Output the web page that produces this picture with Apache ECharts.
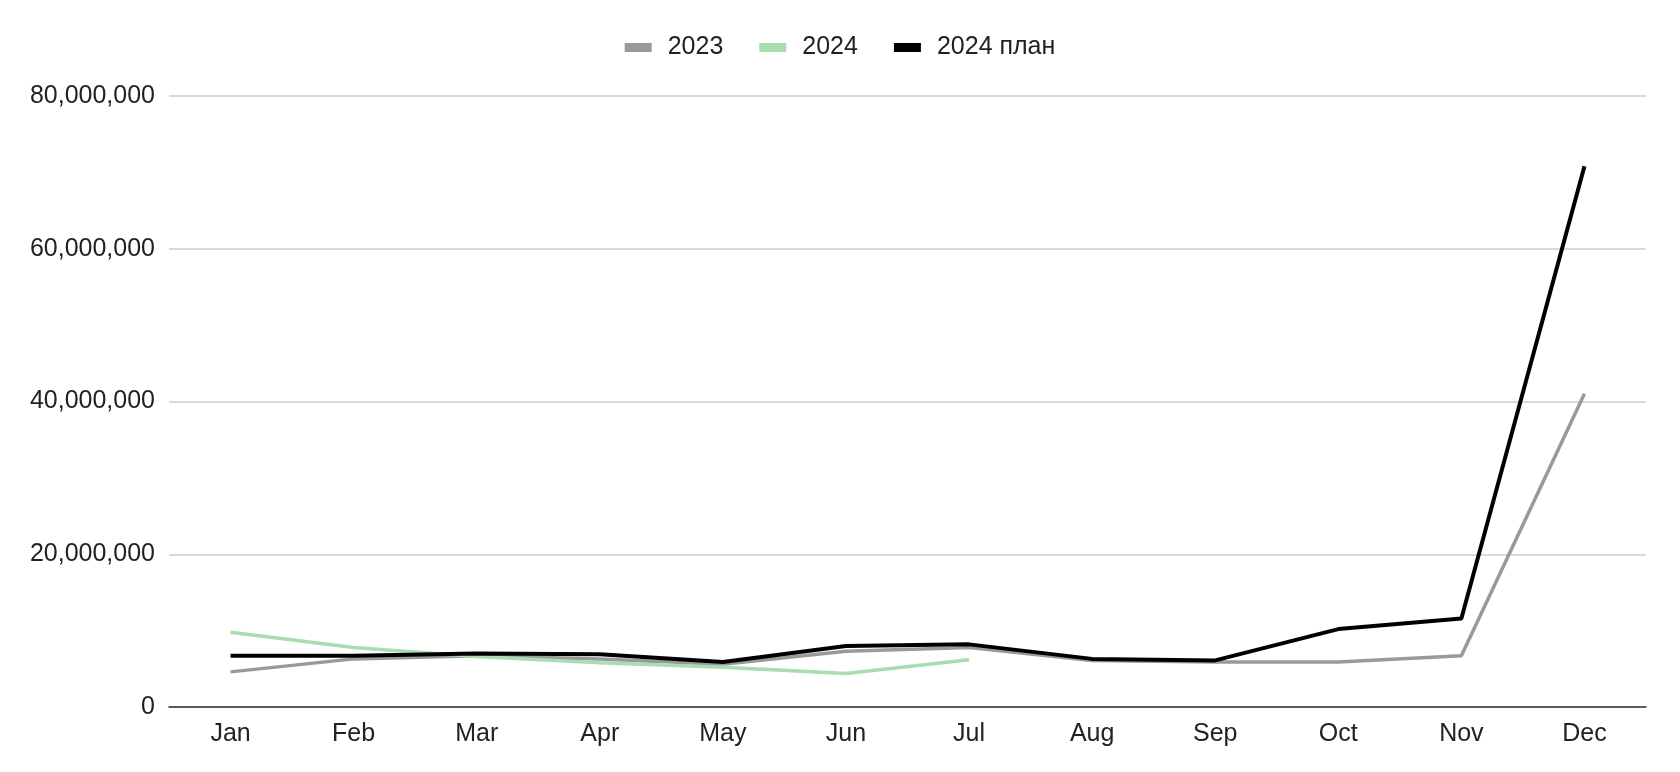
<!DOCTYPE html>
<html><head><meta charset="utf-8">
<script src="https://cdn.jsdelivr.net/npm/echarts@6/dist/echarts.min.js"></script>
<style>html,body{margin:0;padding:0;background:#fff}#c{width:1680px;height:772px}</style>
</head><body><div id="c"></div>
<script>
const categories = ['Jan','Feb','Mar','Apr','May','Jun','Jul','Aug','Sep','Oct','Nov','Dec'];
const s2023 = [4600000, 6300000, 6700000, 6300000, 5600000, 7300000, 7800000, 6100000, 5900000, 5900000, 6700000, 41000000];
const s2024 = [9800000, 7800000, 6600000, 5800000, 5200000, 4400000, 6200000];
const s2024plan = [6700000, 6700000, 7000000, 6900000, 5900000, 8000000, 8200000, 6300000, 6100000, 10200000, 11600000, 70800000];
const yTicks = [0, 20000000, 40000000, 60000000, 80000000];

const font = 'Liberation Sans, Arial, sans-serif';
const chart = echarts.init(document.getElementById('c'), null, {renderer:'canvas'});
chart.setOption({
  animation:false,
  backgroundColor:'#fff',
  legend:{
    top:30, left:'center',
    itemWidth:27, itemHeight:9, itemGap:36,
    icon:'rect',
    textStyle:{fontFamily:font, fontSize:25, color:'#222', padding:[0,0,0,11]},
    data:['2023','2024','2024 план']
  },
  grid:{left:169, right:34, top:96, bottom:65, containLabel:false},
  xAxis:{
    type:'category', data:categories, boundaryGap:true,
    axisLine:{lineStyle:{color:'#333', width:1.5}},
    axisTick:{show:false},
    axisLabel:{fontFamily:font, fontSize:25, color:'#222', margin:15}
  },
  yAxis:{
    type:'value', min:yTicks[0], max:yTicks[yTicks.length-1], interval:20000000,
    axisLine:{show:false}, axisTick:{show:false},
    splitLine:{lineStyle:{color:'#cccccc', width:1.5}},
    axisLabel:{fontFamily:font, fontSize:25, color:'#222', margin:14,
      formatter:v=>v.toLocaleString('en-US')}
  },
  series:[
    {name:'2023', type:'line', data:s2023, symbol:'none', lineStyle:{color:'#999999', width:3.5}, itemStyle:{color:'#999999'}},
    {name:'2024', type:'line', data:s2024, symbol:'none', lineStyle:{color:'#a8dcb1', width:3.5}, itemStyle:{color:'#a8dcb1'}},
    {name:'2024 план', type:'line', data:s2024plan, symbol:'none', lineStyle:{color:'#000000', width:4}, itemStyle:{color:'#000000'}}
  ]
});
</script></body></html>
